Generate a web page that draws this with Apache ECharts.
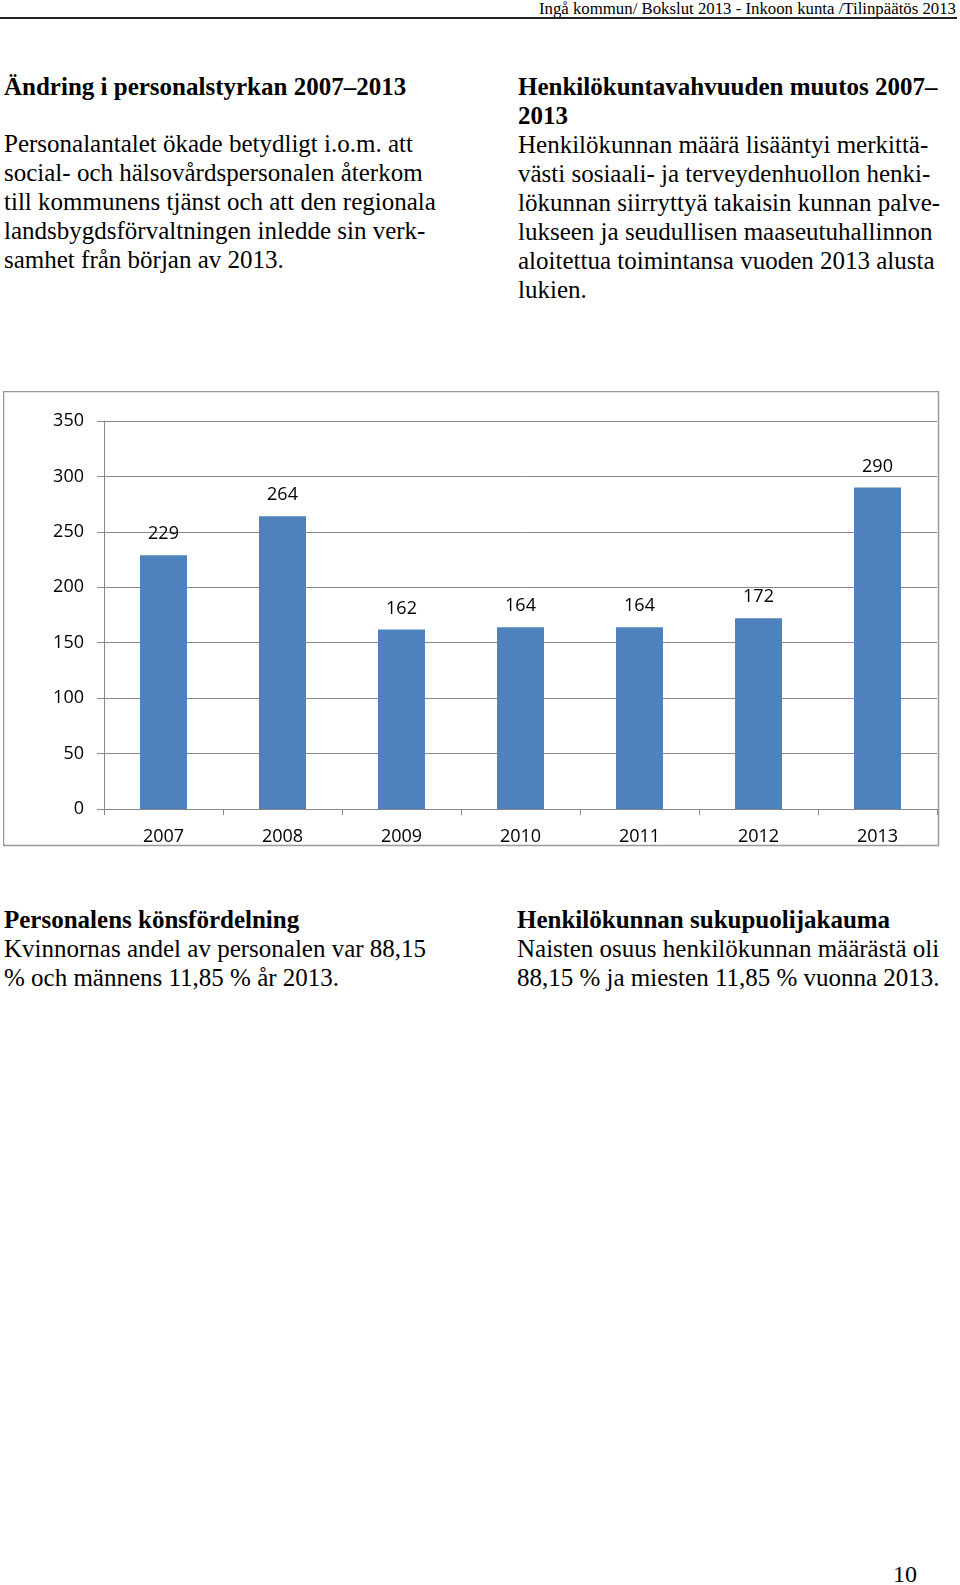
<!DOCTYPE html>
<html>
<head>
<meta charset="utf-8">
<script src="https://cdn.jsdelivr.net/npm/echarts@6/dist/echarts.min.js"></script>
<style>
  html, body { margin: 0; padding: 0; background: #fff; }
  body { width: 960px; height: 1585px; position: relative; overflow: hidden; font-family: "Liberation Serif", "Times New Roman", serif; color: #000; }
  .abs { position: absolute; white-space: nowrap; }
  .ln { height: 29px; line-height: 29px; font-size: 25px; }
  .b { font-weight: bold; }
  #hdr { right: 4px; top: 0px; font-size: 16.8px; line-height: 17px; }
  #hdrline { left: 0; top: 17px; width: 957px; height: 2px; background: #222; }
  #chart { position: absolute; left: 3px; top: 391px; width: 937px; height: 456px; }
</style>
</head>
<body>
<div id="hdr" class="abs">Ingå kommun/ Bokslut 2013 - Inkoon kunta /Tilinpäätös 2013</div>
<div id="hdrline" class="abs"></div>

<div class="abs" style="left:4px; top:72px;">
  <div class="ln b">Ändring i personalstyrkan 2007–2013</div>
</div>
<div class="abs" style="left:4px; top:129px;">
  <div class="ln">Personalantalet ökade betydligt i.o.m. att</div>
  <div class="ln">social- och hälsovårdspersonalen återkom</div>
  <div class="ln">till kommunens tjänst och att den regionala</div>
  <div class="ln">landsbygdsförvaltningen inledde sin verk-</div>
  <div class="ln">samhet från början av 2013.</div>
</div>

<div class="abs" style="left:518px; top:72px;">
  <div class="ln b">Henkilökuntavahvuuden muutos 2007–</div>
  <div class="ln b">2013</div>
  <div class="ln">Henkilökunnan määrä lisääntyi merkittä-</div>
  <div class="ln">västi sosiaali- ja terveydenhuollon henki-</div>
  <div class="ln">lökunnan siirryttyä takaisin kunnan palve-</div>
  <div class="ln">lukseen ja seudullisen maaseutuhallinnon</div>
  <div class="ln">aloitettua toimintansa vuoden 2013 alusta</div>
  <div class="ln">lukien.</div>
</div>

<div id="chart"></div>

<div class="abs" style="left:4px; top:905px;">
  <div class="ln b">Personalens könsfördelning</div>
  <div class="ln">Kvinnornas andel av personalen var 88,15</div>
  <div class="ln">% och männens 11,85 % år 2013.</div>
</div>
<div class="abs" style="left:517px; top:905px;">
  <div class="ln b">Henkilökunnan sukupuolijakauma</div>
  <div class="ln">Naisten osuus henkilökunnan määrästä oli</div>
  <div class="ln">88,15 % ja miesten 11,85 % vuonna 2013.</div>
</div>

<div class="abs" style="left:893px; top:1560px; font-size:24px; line-height:29px;">10</div>

<script>
const years = ["2007", "2008", "2009", "2010", "2011", "2012", "2013"];
const staff = [229, 264, 162, 164, 164, 172, 290];
const yTicks = { min: 0, max: 350, interval: 50 };

const chart = echarts.init(document.getElementById('chart'), null, { renderer: 'canvas' });
const gray = '#888888';
const font = '"Open Sans", "Liberation Sans", sans-serif';
chart.setOption({
  animation: false,
  backgroundColor: '#ffffff',
  graphic: [{
    type: 'rect',
    shape: { x: 0.5, y: 0.5, width: 935, height: 454 },
    style: { fill: 'none', stroke: '#999999', lineWidth: 1.5 },
    silent: true
  }],
  grid: { left: 101, top: 30, width: 833, height: 388 },
  xAxis: {
    type: 'category',
    data: years,
    boundaryGap: true,
    axisLine: { show: true, lineStyle: { color: gray, width: 1 } },
    axisTick: { show: true, length: 6, lineStyle: { color: gray } },
    axisLabel: { margin: 19, fontSize: 18, color: '#000', fontFamily: font }
  },
  yAxis: {
    type: 'value',
    min: yTicks.min, max: yTicks.max, interval: yTicks.interval,
    axisLine: { show: true, lineStyle: { color: gray, width: 1 } },
    axisTick: { show: true, length: 7, lineStyle: { color: gray } },
    splitLine: { show: true, lineStyle: { color: gray, width: 1 } },
    axisLabel: { margin: 20, fontSize: 18, color: '#000', fontFamily: font }
  },
  series: [{
    type: 'bar',
    data: staff,
    barWidth: 47,
    itemStyle: { color: '#4F81BD' },
    label: { show: true, position: 'top', distance: 12, fontSize: 18, color: '#000', fontFamily: font }
  }]
});
</script>
</body>
</html>
